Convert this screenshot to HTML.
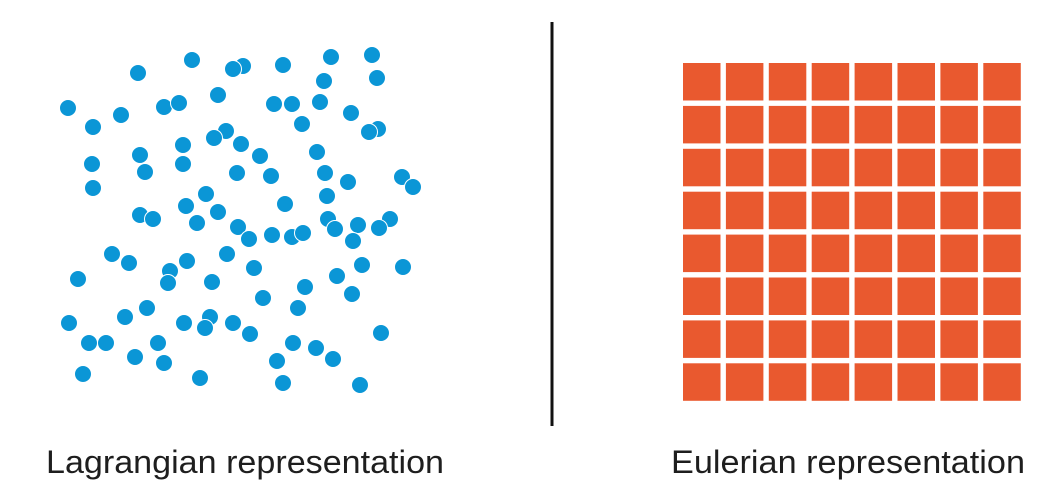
<!DOCTYPE html>
<html><head><meta charset="utf-8"><style>
html,body{margin:0;padding:0;background:#fff;width:1051px;height:497px;overflow:hidden}
svg{display:block}
text{font-family:"Liberation Sans",sans-serif;font-size:32px;fill:#1e1e1e}
</style></head><body>
<svg width="1051" height="497">
<g id="dots"></g>
<g id="grid"></g>
<line x1="552" y1="22" x2="552" y2="426" stroke="#111" stroke-width="3"/>
<text x="46" y="473" textLength="398" lengthAdjust="spacingAndGlyphs">Lagrangian representation</text>
<text x="671" y="473" textLength="354" lengthAdjust="spacingAndGlyphs">Eulerian representation</text>
</svg>
<script>
const particleX=[192,138,243,233,283,331,372,324,377,68,93,121,164,179,218,274,292,320,351,302,378,369,226,214,241,260,317,183,140,92,145,183,237,271,325,348,402,413,93,327,285,206,186,218,197,140,153,238,328,335,358,390,379,249,272,292,303,353,112,129,187,170,168,227,254,78,212,337,362,403,305,352,263,298,147,125,69,184,210,205,233,250,381,89,106,158,293,316,333,277,135,164,83,200,283,360];
const particleY=[60,73,66,69,65,57,55,81,78,108,127,115,107,103,95,104,104,102,113,124,129,132,131,138,144,156,152,145,155,164,172,164,173,176,173,182,177,187,188,196,204,194,206,212,223,215,219,227,219,229,225,219,228,239,235,237,233,241,254,263,261,271,283,254,268,279,282,276,265,267,287,294,298,308,308,317,323,323,317,328,323,334,333,343,343,343,343,348,359,361,357,363,374,378,383,385];
const gridRows=8, gridCols=8;
const NS='http://www.w3.org/2000/svg';
const dots=document.getElementById('dots');
for(let i=0;i<particleX.length;i++){
  const c=document.createElementNS(NS,'circle');
  c.setAttribute('cx',particleX[i]);c.setAttribute('cy',particleY[i]);c.setAttribute('r',8.5);
  c.setAttribute('fill','#0b96d6');c.setAttribute('stroke','#fff');c.setAttribute('stroke-width','1');
  
  
  dots.appendChild(c);
}
const grid=document.getElementById('grid');
for(let r=0;r<gridRows;r++)for(let k=0;k<gridCols;k++){
  const s=document.createElementNS(NS,'rect');
  s.setAttribute('x',683+k*42.9);s.setAttribute('y',63+r*42.9);
  s.setAttribute('width',37.5);s.setAttribute('height',37.5);s.setAttribute('fill','#e9592f');
  
  
  grid.appendChild(s);
}
</script>
</body></html>
